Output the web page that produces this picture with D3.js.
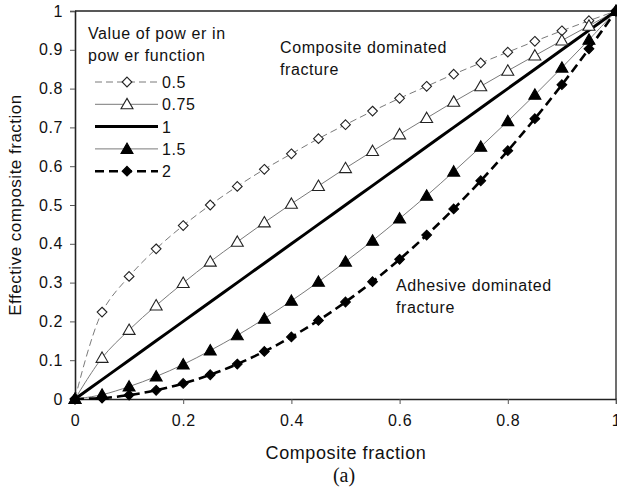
<!DOCTYPE html>
<html>
<head>
<meta charset="utf-8">
<script src="https://cdn.jsdelivr.net/npm/d3@7"></script>
<style>
  html, body { margin: 0; padding: 0; background: #fff; }
  svg { display: block; font-family: "Liberation Sans", Arial, sans-serif; }
  .tick text { font-size: 16px; letter-spacing: 0.6px; fill: #111; }
</style>
</head>
<body>
<svg id="chart" width="617" height="498"></svg>
<script>
// Composite fraction (x) at which each curve is sampled
const composite = [0, 0.05, 0.1, 0.15, 0.2, 0.25, 0.3, 0.35, 0.4, 0.45, 0.5,
                   0.55, 0.6, 0.65, 0.7, 0.75, 0.8, 0.85, 0.9, 0.95, 1];

// Effective composite fraction for each value of the power
const power05  = [0, 0.224, 0.316, 0.387, 0.447, 0.5, 0.548, 0.592, 0.632, 0.671, 0.707,
                  0.742, 0.775, 0.806, 0.837, 0.866, 0.894, 0.922, 0.949, 0.975, 1];
const power075 = [0, 0.106, 0.178, 0.241, 0.299, 0.354, 0.405, 0.455, 0.503, 0.549, 0.595,
                  0.639, 0.682, 0.724, 0.766, 0.806, 0.846, 0.885, 0.924, 0.962, 1];
const power1   = [0, 0.05, 0.1, 0.15, 0.2, 0.25, 0.3, 0.35, 0.4, 0.45, 0.5,
                  0.55, 0.6, 0.65, 0.7, 0.75, 0.8, 0.85, 0.9, 0.95, 1];
const power15  = [0, 0.011, 0.032, 0.058, 0.089, 0.125, 0.164, 0.207, 0.253, 0.302, 0.354,
                  0.408, 0.465, 0.524, 0.586, 0.65, 0.716, 0.784, 0.854, 0.926, 1];
const power2   = [0, 0.0025, 0.01, 0.0225, 0.04, 0.0625, 0.09, 0.1225, 0.16, 0.2025, 0.25,
                  0.3025, 0.36, 0.4225, 0.49, 0.5625, 0.64, 0.7225, 0.81, 0.9025, 1];

const seriesNames = ["0.5", "0.75", "1", "1.5", "2"];

const xTicks = [0, 0.2, 0.4, 0.6, 0.8, 1];
const xTickLabels = ["0", "0.2", "0.4", "0.6", "0.8", "1"];
const yTicks = [0, 0.1, 0.2, 0.3, 0.4, 0.5, 0.6, 0.7, 0.8, 0.9, 1];
const yTickLabels = ["0", "0.1", "0.2", "0.3", "0.4", "0.5", "0.6", "0.7", "0.8", "0.9", "1"];

// Line / marker style per series
const styles = [
  { values: power05,  stroke: "#7a7a7a", width: 1,   dash: "7,4", marker: "diamond",  fill: "#fff" },
  { values: power075, stroke: "#7a7a7a", width: 1,   dash: null,  marker: "triangle", fill: "#fff" },
  { values: power1,   stroke: "#000",    width: 3,   dash: null,  marker: null,       fill: null },
  { values: power15,  stroke: "#7a7a7a", width: 1,   dash: null,  marker: "triangle", fill: "#000" },
  { values: power2,   stroke: "#000",    width: 2.6, dash: "9,5", marker: "diamond",  fill: "#000" }
];

const svg = d3.select("#chart");
const plot = { left: 75, right: 616, top: 11, bottom: 399 };

const x = d3.scaleLinear().domain([0, 1]).range([plot.left, plot.right]);
const y = d3.scaleLinear().domain([0, 1]).range([plot.bottom, plot.top]);

// Frame on top and right
svg.append("path")
  .attr("d", `M${plot.left},${plot.top}H${plot.right}V${plot.bottom}`)
  .attr("fill", "none").attr("stroke", "#222").attr("stroke-width", 1.3);

// Axes
const xAxis = svg.append("g")
  .attr("transform", `translate(0,${plot.bottom})`)
  .call(d3.axisBottom(x).tickValues(xTicks).tickSize(5).tickPadding(11)
        .tickFormat((d, i) => xTickLabels[i]));
const yAxis = svg.append("g")
  .attr("transform", `translate(${plot.left},0)`)
  .call(d3.axisLeft(y).tickValues(yTicks).tickSize(5).tickPadding(7)
        .tickFormat((d, i) => yTickLabels[i]));
[xAxis, yAxis].forEach(g => {
  g.select(".domain").attr("stroke", "#222").attr("stroke-width", 1.6);
  g.selectAll(".tick line").attr("stroke", "#555").attr("stroke-width", 1);
  g.selectAll(".tick text").attr("font-family", null).attr("font-size", null);
});
xAxis.selectAll(".tick").filter(d => d === 0).select("line").remove();

// Marker shapes
const diamond = d3.symbol().type(d3.symbolDiamond2).size(60);
const triangle = d3.symbol().type(d3.symbolTriangle).size(62);
function drawMarker(g, kind, fill, cx, cy) {
  if (!kind) return;
  const sym = kind === "diamond" ? diamond : triangle;
  g.append("path")
    .attr("d", sym())
    .attr("transform", `translate(${cx},${cy + (kind === "triangle" ? 1 : 0)})`)
    .attr("fill", fill)
    .attr("stroke", fill === "#000" ? "#000" : "#222")
    .attr("stroke-width", 1.1);
}

const line = d3.line()
  .x((d, i) => x(composite[i]))
  .y(d => y(d))
  .curve(d3.curveCatmullRom.alpha(0.5));

// Series lines then markers
const seriesG = svg.append("g");
styles.forEach(s => {
  seriesG.append("path")
    .datum(s.values)
    .attr("d", line)
    .attr("fill", "none")
    .attr("stroke", s.stroke)
    .attr("stroke-width", s.width)
    .attr("stroke-dasharray", s.dash);
});
styles.forEach(s => {
  s.values.forEach((v, i) => drawMarker(seriesG, s.marker, s.fill, x(composite[i]), y(v)));
});

// Legend
const legend = svg.append("g").attr("font-size", 16).attr("letter-spacing", "0.6px").attr("fill", "#111");
legend.append("text").attr("x", 88).attr("y", 39).text("Value of pow er in");
legend.append("text").attr("x", 88).attr("y", 61).text("pow er function");
styles.forEach((s, i) => {
  const ly = 82 + i * 22.3;
  legend.append("line")
    .attr("x1", 95).attr("x2", 158).attr("y1", ly).attr("y2", ly)
    .attr("stroke", s.stroke).attr("stroke-width", s.width)
    .attr("stroke-dasharray", s.dash);
  drawMarker(legend, s.marker, s.fill, 127, ly);
  legend.append("text").attr("x", 162).attr("y", ly + 6).text(seriesNames[i]);
});

// Region annotations
const notes = svg.append("g").attr("font-size", 16).attr("letter-spacing", "0.6px").attr("fill", "#111");
notes.append("text").attr("x", 280).attr("y", 53).text("Composite dominated");
notes.append("text").attr("x", 280).attr("y", 75).text("fracture");
notes.append("text").attr("x", 396).attr("y", 291).text("Adhesive dominated");
notes.append("text").attr("x", 396).attr("y", 313).text("fracture");

// Axis titles and caption
svg.append("text")
  .attr("x", 346).attr("y", 459)
  .attr("text-anchor", "middle").attr("font-size", 18).attr("letter-spacing", "0.6px")
  .attr("fill", "#111").text("Composite fraction");
svg.append("text")
  .attr("transform", `translate(21,${(plot.top + plot.bottom) / 2}) rotate(-90)`)
  .attr("text-anchor", "middle").attr("font-size", 17).attr("letter-spacing", "0.5px")
  .attr("fill", "#111").text("Effective composite fraction");
svg.append("text")
  .attr("x", 344).attr("y", 482)
  .attr("text-anchor", "middle").attr("font-size", 20)
  .attr("font-family", "'Liberation Serif', 'Times New Roman', serif")
  .attr("fill", "#111").text("(a)");
</script>
</body>
</html>
